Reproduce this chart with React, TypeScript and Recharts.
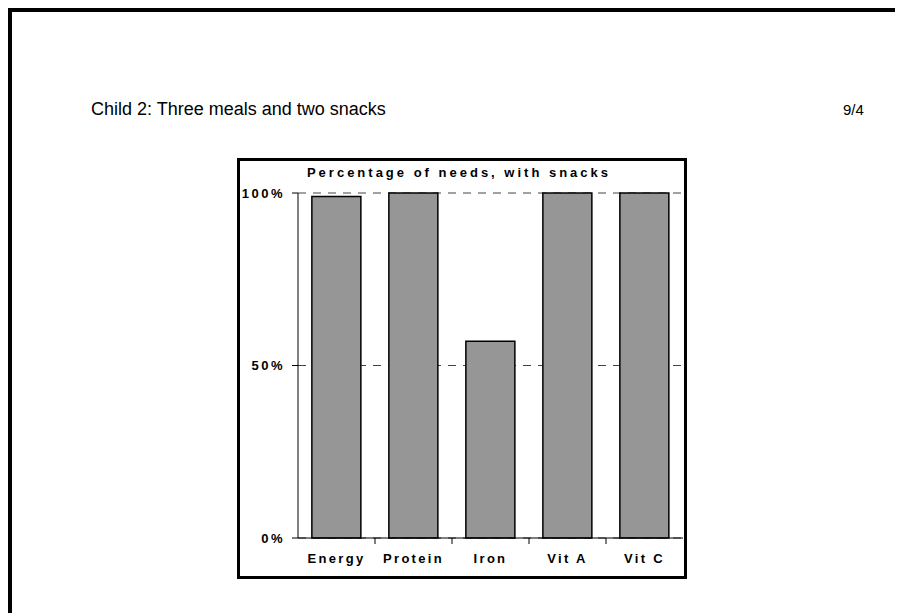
import { BarChart, Bar, XAxis, YAxis, CartesianGrid } from "recharts";

const nutrients = ["Energy", "Protein", "Iron", "Vit A", "Vit C"];
const percentOfNeeds = [99, 100, 57, 100, 100];
const percentTicks = [0, 50, 100];

const data = nutrients.map((name, i) => ({ name, value: percentOfNeeds[i] }));

const FONT = "Arial, 'Liberation Sans', Helvetica, sans-serif";

const CategoryTick = (props: any) => {
  const { x, y, payload, index } = props;
  const half = payload?.offset ?? 38.5;
  const last = index === nutrients.length - 1;
  return (
    <g>
      <text
        x={x}
        y={y}
        dy={9}
        textAnchor="middle"
        fontSize={13}
        fontWeight="bold"
        letterSpacing={2.3}
        fill="#000"
        fontFamily={FONT}
      >
        {payload.value}
      </text>
      {!last && (
        <line
          x1={x + half}
          x2={x + half}
          y1={y - 16}
          y2={y - 10}
          stroke="#000"
          strokeWidth={1}
        />
      )}
    </g>
  );
};

const App = () => {
  return (
    <div
      style={{
        position: "relative",
        width: 895,
        height: 605,
        fontFamily: FONT,
        overflow: "hidden",
      }}
    >
      <div style={{ position: "absolute", left: 0, top: 0, width: 4, height: 605, background: "#000" }} />
      <div style={{ position: "absolute", left: 0, top: 0, width: 895, height: 4, background: "#000" }} />

      <div
        style={{
          position: "absolute",
          left: 83,
          top: 92,
          fontSize: 18,
          lineHeight: "18px",
          color: "#000",
          whiteSpace: "nowrap",
        }}
      >
        Child 2: Three meals and two snacks
      </div>
      <div
        style={{
          position: "absolute",
          left: 835,
          top: 94,
          fontSize: 15,
          lineHeight: "15px",
          color: "#000",
        }}
      >
        9/4
      </div>

      <div
        style={{
          position: "absolute",
          left: 229,
          top: 150,
          width: 450,
          height: 421,
          border: "3px solid #000",
          boxSizing: "border-box",
          background: "#fff",
        }}
      >
        <div
          style={{
            position: "absolute",
            left: 0,
            top: 5,
            width: 438,
            textAlign: "center",
            fontSize: 13,
            lineHeight: "13px",
            fontWeight: "bold",
            letterSpacing: 3,
            color: "#000",
            whiteSpace: "nowrap",
          }}
        >
          Percentage of needs, with snacks
        </div>
        <div style={{ position: "absolute", left: 0, top: 0 }}>
          <BarChart
            width={444}
            height={415}
            data={data}
            margin={{ top: 32, right: 1, left: 0, bottom: 8 }}
            barCategoryGap="18%"
          >
            <CartesianGrid
              vertical={false}
              stroke="#444"
              strokeDasharray="8 7"
            />
            <YAxis
              width={58}
              domain={[0, 100]}
              ticks={percentTicks}
              tickFormatter={(v: number) => `${v}%`}
              axisLine={{ stroke: "#000" }}
              tickLine={{ stroke: "#000" }}
              tickSize={6}
              tickMargin={7}
              tick={{
                fontSize: 13,
                fontWeight: "bold",
                fill: "#000",
                fontFamily: FONT,
                letterSpacing: 2.5,
              }}
            />
            <XAxis
              dataKey="name"
              height={30}
              axisLine={{ stroke: "#000" }}
              tickLine={false}
              tickSize={0}
              tickMargin={16}
              interval={0}
              tick={<CategoryTick />}
            />
            <Bar
              dataKey="value"
              fill="#969696"
              stroke="#000"
              strokeWidth={1.5}
              isAnimationActive={false}
            />
          </BarChart>
        </div>
      </div>
    </div>
  );
};

export default App;
